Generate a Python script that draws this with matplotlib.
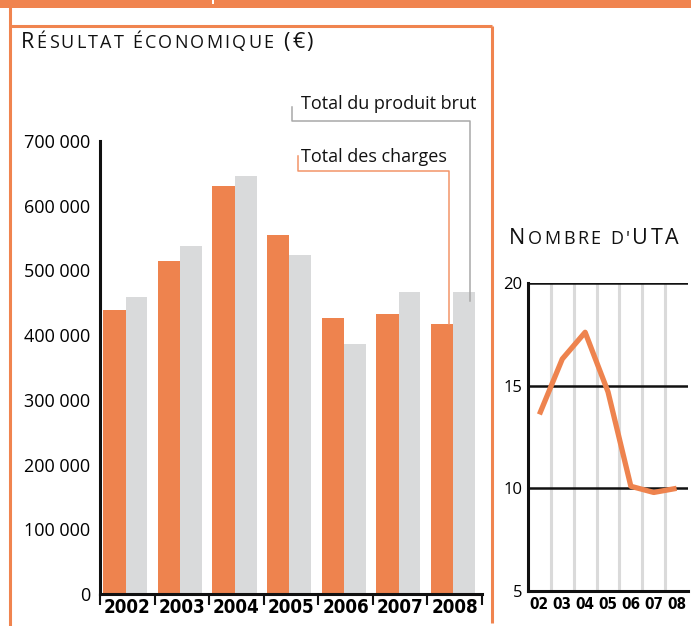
import matplotlib
matplotlib.use("Agg")

import matplotlib.pyplot as plt
from matplotlib import font_manager
from matplotlib.lines import Line2D
from matplotlib.patches import Rectangle
from matplotlib.offsetbox import TextArea, HPacker, AnnotationBbox
from matplotlib.ticker import FuncFormatter
import numpy as np

W, H = 691, 626
ORANGE = "#EE834E"
FRAME = "#F0844F"
GREY = "#D9DADB"
TEXT_FONT = "Open Sans"

# Résultat économique (€)
years = ["2002", "2003", "2004", "2005", "2006", "2007", "2008"]
charges = [439000, 515000, 630000, 554000, 427000, 432000, 417000]
produit = [459000, 538000, 646000, 524000, 387000, 466000, 467000]
y_ticks = [0, 100000, 200000, 300000, 400000, 500000, 600000, 700000]

# Nombre d'UTA
uta_labels = ["02", "03", "04", "05", "06", "07", "08"]
uta = [13.6, 16.3, 17.6, 14.7, 10.1, 9.8, 10.0]
uta_ticks = [5, 10, 15, 20]


def narrow_bold():
    """Condensed bold font for the year labels, if one is installed."""
    fp = font_manager.FontProperties(family="DejaVu Sans", weight="bold", stretch="condensed")
    path = font_manager.findfont(fp, fallback_to_default=True)
    if "Condensed" in path:
        return dict(family="DejaVu Sans", stretch="condensed", scale=1.0)
    return dict(family="Roboto", stretch="normal", scale=0.9)


def px_axes(fig, left, top, right, bottom):
    """Add axes from a pixel box (y measured from the top)."""
    return fig.add_axes([left / W, 1 - bottom / H, (right - left) / W, (bottom - top) / H])


def fig_line(fig, xs, ys, color, lw):
    """Draw a line in figure pixels (y measured from the top)."""
    fig.add_artist(Line2D([x / W for x in xs], [1 - y / H for y in ys],
                          transform=fig.transFigure, color=color, linewidth=lw,
                          solid_capstyle="butt"))


def small_caps(fig, parts, x, y, spacing=1.0):
    """Fake letter-spaced small caps: one TextArea per letter, on one baseline."""
    areas = []
    for text, size in parts:
        for ch in text:
            areas.append(TextArea(ch, textprops=dict(fontsize=size, family=TEXT_FONT,
                                                     color="#111111")))
    box = HPacker(children=areas, align="baseline", pad=0, sep=spacing)
    ab = AnnotationBbox(box, (x / W, 1 - y / H), xycoords="figure fraction",
                        box_alignment=(0, 0), frameon=False, pad=0)
    fig.add_artist(ab)


NB = narrow_bold()

fig = plt.figure(figsize=(W / 100, H / 100), dpi=100)

# page decoration: top band, frame around the bar chart
fig.add_artist(Rectangle((0, 1 - 7.5 / H), 1, 7.5 / H, transform=fig.transFigure,
                         color=FRAME, lw=0))
fig.add_artist(Rectangle((212 / W, 1 - 4 / H), 2 / W, 4 / H, transform=fig.transFigure,
                         color="white", lw=0))
fig_line(fig, [9.5, 9.5], [7, 626], FRAME, 2.2)
fig_line(fig, [9.5, 491.5], [25.5, 25.5], FRAME, 2.2)
fig_line(fig, [491.5, 491.5], [25.5, 623], FRAME, 2.2)

# ---- bar chart
ax = px_axes(fig, 100, 141, 482, 594)
x = np.arange(len(years))
ax.bar(x - 0.44, charges, width=0.41, align="edge", color=ORANGE, lw=0)
ax.bar(x - 0.03, produit, width=0.40, align="edge", color=GREY, lw=0)
ax.set_xlim(-0.5, 6.5)
ax.set_ylim(0, 700000)
for side in ("top", "right"):
    ax.spines[side].set_visible(False)
for side in ("left", "bottom"):
    ax.spines[side].set_linewidth(2.2)
    ax.spines[side].set_color("#111111")

ax.set_xticks(np.arange(-0.5, 7, 1))
ax.set_xticklabels([])
ax.tick_params(axis="x", which="major", direction="out", length=8, width=1.5, color="#111111")
ax.set_xticks(x, minor=True)
ax.set_xticklabels(years, minor=True, fontsize=13.5 * NB["scale"], fontweight="bold",
                   family=NB["family"], fontstretch=NB["stretch"])
ax.tick_params(axis="x", which="minor", length=0, pad=3)

ax.set_yticks(y_ticks)
ax.yaxis.set_major_formatter(FuncFormatter(lambda v, _: f"{int(v):,}".replace(",", " ")))
ax.tick_params(axis="y", length=0, pad=7, labelsize=13)
for lab in ax.get_yticklabels():
    lab.set_family(TEXT_FONT)

# leader lines to the 2008 bars
ax.plot([3.02, 3.02, 6.28, 6.28], [752000, 731000, 731000, produit[-1] - 15000],
        color="#A8A8A8", lw=1.1, clip_on=False)
ax.plot([3.13, 3.13, 5.89, 5.89], [677000, 654000, 654000, charges[-1]],
        color="#F29468", lw=1.1, clip_on=False)
ax.text(3.18, 749000, "Total du produit brut", fontsize=13, family=TEXT_FONT,
        va="baseline", color="#111111")
ax.text(3.18, 667000, "Total des charges", fontsize=13, family=TEXT_FONT,
        va="baseline", color="#111111")

small_caps(fig, [("R", 15.5), ("ÉSULTAT ÉCONOMIQUE", 13), (" (€)", 15.5)], 21, 53, spacing=1.6)

# ---- UTA line chart
ax2 = px_axes(fig, 528, 283, 688, 591)
x2 = np.arange(len(uta_labels))
ax2.set_xlim(-0.5, 6.5)
ax2.set_ylim(5, 20)
ax2.vlines(np.arange(0.5, 6, 1), 5, 20, color="#DADADA", lw=2.2, zorder=0)
ax2.hlines([10, 15, 20], -0.5, 6.5, color="#111111", lw=1.8, zorder=1)
ax2.plot(x2, uta, color=ORANGE, lw=3.8, zorder=3, solid_capstyle="butt")
for side in ("top", "right"):
    ax2.spines[side].set_visible(False)
for side in ("left", "bottom"):
    ax2.spines[side].set_linewidth(2.2)
    ax2.spines[side].set_color("#111111")
ax2.set_yticks(uta_ticks)
ax2.tick_params(axis="y", length=0, pad=4, labelsize=12)
for lab in ax2.get_yticklabels():
    lab.set_family(TEXT_FONT)
ax2.set_xticks(x2)
ax2.set_xticklabels(uta_labels, fontsize=11 * NB["scale"], fontweight="bold",
                    family=NB["family"], fontstretch=NB["stretch"])
ax2.tick_params(axis="x", length=0, pad=4)

small_caps(fig, [("N", 15.5), ("OMBRE D'", 13), ("UTA", 15.5)], 509, 249, spacing=1.8)

fig.savefig("out.png", dpi=100)
